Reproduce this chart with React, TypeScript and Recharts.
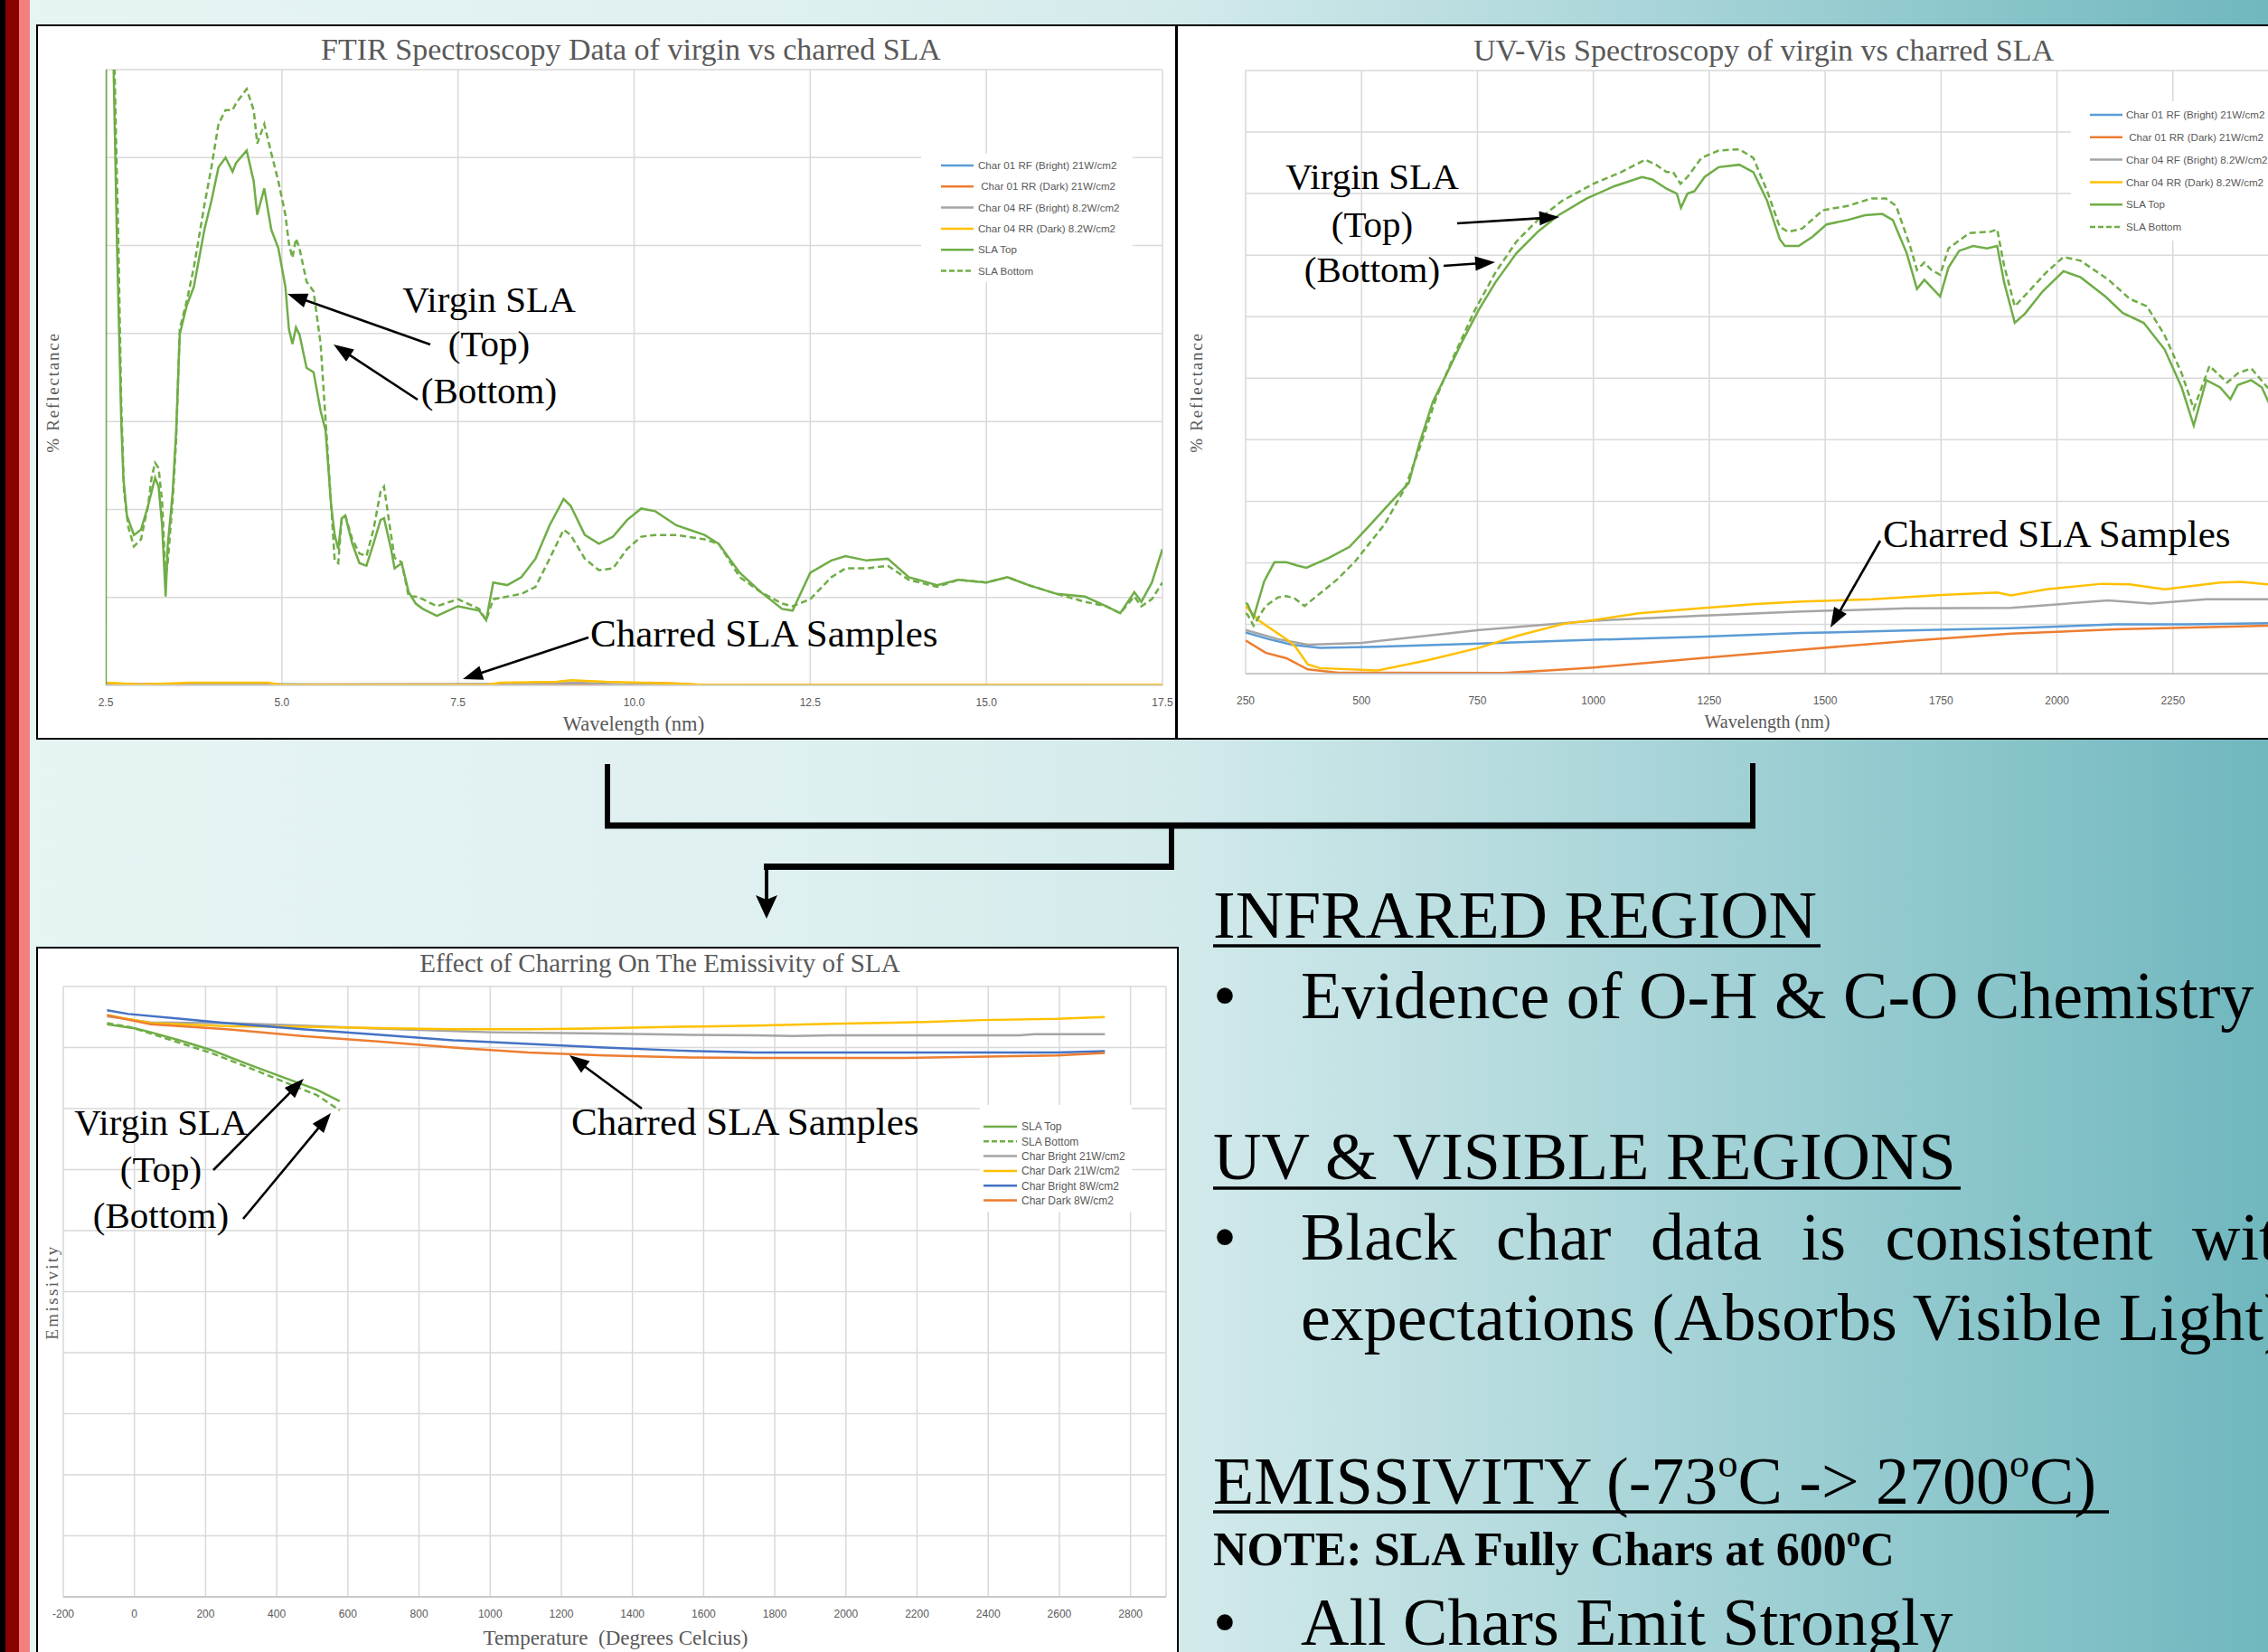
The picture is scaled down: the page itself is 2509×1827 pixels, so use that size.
import React from 'react';
import { LineChart, Line, XAxis, YAxis, CartesianGrid } from 'recharts';

const SERIF = '"Liberation Serif", "Times New Roman", serif';
const SANS = '"Liberation Sans", Arial, sans-serif';

// ---------------- FTIR (left top) ----------------
const FTIR_X_TICKS = [2.5, 5, 7.5, 10, 12.5, 15, 17.5];
const FTIR_Y_TICKS = [0, 10, 20, 30, 40, 50, 60, 70];
const FTIR_SLA_TOP: number[][] = [
  [2.5, 0], [2.505, 95], [2.6, 75], [2.66, 50], [2.72, 30], [2.75, 23.6], [2.8, 19.3], [2.9, 17.1], [3.0, 17.7],
  [3.1, 20.4], [3.15, 22], [3.2, 23.6], [3.25, 22.6], [3.3, 18.2], [3.35, 10.1], [3.38, 16], [3.42, 19.3],
  [3.45, 22], [3.5, 29], [3.55, 39.9], [3.65, 43.2], [3.75, 45.3], [3.9, 51.8], [4.0, 55.1], [4.1, 58.9],
  [4.2, 60], [4.3, 58.4], [4.35, 59.4], [4.5, 60.8], [4.6, 57.3], [4.65, 53.5], [4.75, 56.5], [4.85, 51.8],
  [4.95, 49.7], [5.05, 45.3], [5.1, 40.5], [5.15, 38.8], [5.2, 40.7], [5.25, 39.9], [5.35, 36.1], [5.45, 35.6],
  [5.55, 31.2], [5.62, 29], [5.7, 20.4], [5.75, 17.1], [5.8, 15.5], [5.85, 19], [5.9, 19.3], [6.0, 16.1],
  [6.1, 13.9], [6.2, 13.6], [6.3, 16.1], [6.4, 18.8], [6.45, 19], [6.55, 15.5], [6.6, 13.3], [6.7, 13.9],
  [6.8, 10.6], [6.9, 9.3], [7.0, 8.7], [7.2, 7.9], [7.5, 9], [7.8, 8.5], [7.9, 7.4], [8.0, 11.7], [8.2, 11.4],
  [8.4, 12.3], [8.6, 14.4], [8.8, 18.2], [9.0, 21.2], [9.1, 20.4], [9.3, 17.1], [9.5, 16.1], [9.7, 16.9],
  [9.9, 18.8], [10.1, 20.1], [10.3, 19.8], [10.6, 18.2], [11.0, 17.1], [11.2, 16.1], [11.5, 12.8], [11.8, 10.6],
  [12.1, 8.7], [12.25, 8.5], [12.5, 12.8], [12.8, 14.2], [13.0, 14.7], [13.3, 14.2], [13.6, 14.4], [13.9, 12.3],
  [14.3, 11.4], [14.6, 12], [15.0, 11.7], [15.3, 12.3], [15.6, 11.4], [16.0, 10.4], [16.4, 10.1], [16.7, 9],
  [16.9, 8.2], [17.1, 10.6], [17.2, 9.5], [17.35, 11.7], [17.5, 15.5],
];
const FTIR_SLA_BOTTOM: number[][] = [
  [2.55, 95], [2.62, 72], [2.68, 50], [2.72, 32], [2.76, 22], [2.82, 18], [2.9, 15.8], [3.0, 16.6], [3.1, 20.4],
  [3.15, 23.6], [3.2, 25.3], [3.25, 24.7], [3.3, 20.9], [3.35, 12.3], [3.38, 14], [3.42, 18], [3.45, 21],
  [3.5, 28], [3.55, 40.5], [3.65, 43.7], [3.75, 47.5], [3.9, 54.6], [4.0, 58.9], [4.1, 63.8], [4.2, 65.4],
  [4.3, 65.4], [4.35, 66.2], [4.5, 67.8], [4.6, 65.4], [4.65, 61.6], [4.75, 63.8], [4.85, 60.5], [4.95, 57.3],
  [5.05, 53.5], [5.1, 50.2], [5.15, 48.6], [5.2, 50.8], [5.25, 49.7], [5.35, 45.9], [5.45, 44.8], [5.55, 38.8],
  [5.62, 30.2], [5.7, 20.4], [5.75, 14.2], [5.8, 13.9], [5.85, 19], [5.9, 19.3], [6.0, 16.6], [6.1, 15],
  [6.2, 14.7], [6.3, 17.7], [6.4, 22], [6.45, 22.6], [6.55, 17.1], [6.6, 14.5], [6.7, 14], [6.8, 10.1],
  [6.9, 10.1], [7.0, 9.8], [7.2, 9], [7.5, 9.8], [7.8, 8.7], [7.9, 7.4], [8.0, 9.8], [8.2, 10.1], [8.4, 10.4],
  [8.6, 11.2], [8.8, 14.4], [9.0, 17.7], [9.1, 17.1], [9.3, 14.4], [9.5, 13.1], [9.7, 13.3], [9.9, 15.5],
  [10.1, 16.9], [10.3, 17.1], [10.6, 17.1], [11.0, 16.6], [11.2, 16.1], [11.5, 12.3], [11.8, 10.6], [12.1, 9.3],
  [12.25, 9], [12.5, 9.8], [12.8, 12.3], [13.0, 13.3], [13.3, 13.3], [13.6, 13.6], [13.9, 12], [14.3, 11.2],
  [14.6, 12], [15.0, 11.7], [15.3, 12.3], [15.6, 11.4], [16.0, 10.4], [16.4, 9.5], [16.7, 9], [16.9, 8.2],
  [17.1, 10.1], [17.2, 9], [17.35, 9.8], [17.5, 11.7],
];
const FTIR_CHAR01_RF: number[][] = [[2.5, 0.15], [3.5, 0.1], [4.2, 0.15], [6.0, 0.05], [9.0, 0.1], [17.5, 0.02]];
const FTIR_CHAR01_RR: number[][] = [[2.5, 0.25], [3.0, 0.1], [3.7, 0.2], [4.8, 0.2], [5.0, 0.05], [10.0, 0.05], [10.2, 0.3], [10.6, 0.2], [11.0, 0.05], [17.5, 0.02]];
const FTIR_CHAR04_RF: number[][] = [[2.5, 0.1], [8.5, 0.15], [9.2, 0.3], [9.8, 0.1], [17.5, 0.02]];
const FTIR_CHAR04_RR: number[][] = [[2.5, 0.3], [3.0, 0.1], [3.7, 0.3], [4.8, 0.3], [5.0, 0.05], [7.9, 0.05], [8.1, 0.3], [8.9, 0.4], [9.1, 0.6], [9.6, 0.4], [10.6, 0.2], [11.0, 0.05], [17.5, 0.05]];

// ---------------- UV-Vis (right top) ----------------
const UV_X_TICKS = [250, 500, 750, 1000, 1250, 1500, 1750, 2000, 2250, 2500];
const UV_Y_TICKS = [8, 18, 28, 38, 48, 58, 68, 78, 88, 98];
const UV_SLA_TOP: number[][] = [
  [250, 11.5], [254, 11.3], [267, 9.1], [290, 15], [312, 18.1], [338, 18.1], [360, 17.6], [381, 17.2],
  [429, 18.8], [474, 20.6], [520, 24.3], [560, 27.6], [602, 31], [624, 37.2], [654, 44.2], [684, 48.8],
  [714, 53.5], [752, 59], [789, 63.6], [834, 68.3], [880, 71.8], [925, 74.5], [985, 77.2], [1045, 79.2],
  [1105, 80.7], [1127, 80.3], [1158, 78.8], [1180, 78], [1189, 75.7], [1203, 78], [1218, 78.4], [1240, 80.7],
  [1270, 82.3], [1315, 82.7], [1345, 81.5], [1375, 76.8], [1402, 70.6], [1413, 69.5], [1443, 69.5], [1473, 71],
  [1503, 73], [1548, 73.7], [1586, 74.5], [1623, 74.7], [1646, 73.7], [1676, 68.3], [1698, 62.5], [1714, 64],
  [1729, 62.8], [1748, 61.3], [1766, 66], [1789, 68.7], [1819, 69.5], [1849, 69.1], [1871, 69.5], [1886, 63.6],
  [1909, 57], [1931, 58.5], [1969, 62.1], [2014, 65.4], [2051, 64.4], [2104, 61.3], [2142, 58.6], [2187, 57],
  [2232, 52.7], [2269, 46.5], [2295, 40.3], [2322, 47.7], [2352, 46.5], [2374, 44.6], [2390, 46.9], [2419, 47.7],
  [2442, 46.5], [2460, 43.5], [2480, 45],
];
const UV_SLA_BOTTOM: number[][] = [
  [250, 9.8], [254, 9.6], [267, 7.8], [293, 11], [320, 12.4], [338, 12.6], [356, 12.2], [377, 11],
  [410, 13], [449, 15.4], [488, 18.4], [550, 24.3], [594, 30.2], [624, 36.4], [662, 45], [699, 51.6], [744, 59], [789, 65.2],
  [834, 70.2], [880, 73.7], [932, 76.8], [1000, 79.6], [1060, 81.5], [1112, 83.5], [1135, 82.7], [1158, 81.5],
  [1172, 81.5], [1188, 79.6], [1203, 80.7], [1233, 83.8], [1270, 85], [1315, 85.2], [1345, 83.8], [1375, 78.4],
  [1402, 72.6], [1420, 71.8], [1450, 72.3], [1495, 75.3], [1548, 76], [1600, 77.2], [1631, 77.2], [1653, 76],
  [1683, 69.5], [1698, 65.6], [1714, 66.8], [1729, 65.6], [1748, 64.8], [1766, 69.1], [1811, 71.6], [1856, 71.8],
  [1871, 72.2], [1886, 66.3], [1909, 59.7], [1939, 62.1], [1977, 65.2], [2014, 67.7], [2051, 67.1], [2111, 64],
  [2157, 60.9], [2194, 59.7], [2232, 55], [2269, 48.8], [2295, 43], [2329, 50], [2367, 47.3], [2390, 48.8],
  [2419, 49.6], [2454, 46.5], [2480, 47],
];
const UV_CHAR01_RF: number[][] = [
  [250, 6.7], [300, 5.6], [350, 4.7], [410, 4.2], [549, 4.4], [754, 4.9], [1001, 5.5], [1229, 6.0], [1450, 6.6],
  [1676, 7], [1901, 7.4], [2126, 8], [2277, 8], [2454, 8.2], [2500, 8.3],
];
const UV_CHAR01_RR: number[][] = [
  [250, 5.4], [293, 3.4], [338, 2.5], [384, 0.7], [450, 0.15], [806, 0.1], [903, 0.5], [1001, 1], [1229, 2.5],
  [1450, 3.9], [1676, 5.3], [1901, 6.5], [2126, 7.2], [2454, 7.8], [2500, 7.9],
];
const UV_CHAR04_RF: number[][] = [
  [250, 7.1], [320, 5.6], [384, 4.7], [501, 5.0], [754, 7.1], [1001, 8.6], [1229, 9.4], [1450, 10.1],
  [1676, 10.6], [1901, 10.7], [2111, 11.9], [2201, 11.4], [2322, 12.1], [2454, 12.1], [2500, 12.2],
];
const UV_CHAR04_RR: number[][] = [
  [250, 11], [279, 8.6], [338, 5.6], [357, 4.4], [384, 1.5], [410, 0.9], [533, 0.5], [644, 2.2], [754, 4.2],
  [839, 6.2], [936, 8.1], [1001, 8.7], [1098, 9.8], [1229, 10.6], [1350, 11.3], [1450, 11.7], [1601, 12.1],
  [1751, 12.8], [1871, 13.2], [1901, 12.7], [1977, 13.7], [2097, 14.6], [2157, 14.5], [2232, 13.7],
  [2352, 14.8], [2397, 14.9], [2454, 14.5], [2500, 14.6],
];

// ---------------- Emissivity (left bottom) ----------------
const EMIS_X_TICKS = [-200, 0, 200, 400, 600, 800, 1000, 1200, 1400, 1600, 1800, 2000, 2200, 2400, 2600, 2800, 2900];
const EMIS_Y_TICKS = [0, 0.1, 0.2, 0.3, 0.4, 0.5, 0.6, 0.7, 0.8, 0.9, 1.0];
const EMIS_SLA_TOP: number[][] = [[-77, 0.938], [4, 0.931], [46, 0.925], [131, 0.911], [216, 0.896], [322, 0.872], [428, 0.849], [513, 0.831], [577, 0.812]];
const EMIS_SLA_BOTTOM: number[][] = [[-77, 0.94], [-17, 0.934], [46, 0.923], [131, 0.907], [216, 0.891], [322, 0.867], [428, 0.842], [513, 0.822], [577, 0.797]];
const EMIS_BRIGHT21: number[][] = [[-77, 0.951], [46, 0.941], [259, 0.94], [471, 0.936], [683, 0.931], [896, 0.927], [1002, 0.925], [1320, 0.923], [1532, 0.921], [1745, 0.92], [1851, 0.919], [1957, 0.92], [2488, 0.92], [2530, 0.922], [2728, 0.922]];
const EMIS_DARK21: number[][] = [[-77, 0.953], [46, 0.94], [259, 0.935], [471, 0.934], [683, 0.932], [896, 0.93], [1108, 0.93], [1278, 0.931], [1532, 0.934], [1745, 0.936], [1957, 0.939], [2169, 0.941], [2382, 0.945], [2594, 0.947], [2728, 0.95]];
const EMIS_BRIGHT8: number[][] = [[-77, 0.961], [-17, 0.955], [131, 0.947], [259, 0.94], [471, 0.93], [683, 0.921], [896, 0.912], [1108, 0.906], [1320, 0.9], [1532, 0.895], [1745, 0.892], [2169, 0.892], [2594, 0.892], [2728, 0.894]];
const EMIS_DARK8: number[][] = [[-77, 0.953], [46, 0.938], [259, 0.93], [471, 0.919], [683, 0.91], [896, 0.9], [1108, 0.892], [1320, 0.887], [1532, 0.884], [1745, 0.883], [2169, 0.883], [2594, 0.887], [2728, 0.891]];

// ---------------- legend labels ----------------
const SPEC_LEGEND = [
  'Char 01 RF (Bright) 21W/cm2',
  '\u00a0Char 01 RR (Dark) 21W/cm2',
  'Char 04 RF (Bright) 8.2W/cm2',
  'Char 04 RR (Dark) 8.2W/cm2',
  'SLA Top',
  'SLA Bottom',
];
const EMIS_LEGEND = ['SLA Top', 'SLA Bottom', 'Char Bright 21W/cm2', 'Char Dark 21W/cm2', 'Char Bright 8W/cm2', 'Char Dark 8W/cm2'];

const BLUE = '#5b9bd5';
const ORANGE = '#ed7d31';
const GRAY = '#a5a5a5';
const YELLOW = '#ffc000';
const GREEN = '#70ad47';
const DBLUE = '#4472c4';
const DASH = '7 4';

const SPEC_COLORS = [BLUE, ORANGE, GRAY, YELLOW, GREEN, GREEN];
const SPEC_DASHED = [false, false, false, false, false, true];
const EMIS_COLORS = [GREEN, GREEN, GRAY, YELLOW, DBLUE, ORANGE];
const EMIS_DASHED = [false, true, false, false, false, false];

const FTIR_SERIES = [FTIR_CHAR01_RF, FTIR_CHAR01_RR, FTIR_CHAR04_RF, FTIR_CHAR04_RR, FTIR_SLA_TOP, FTIR_SLA_BOTTOM];
const UV_SERIES = [UV_CHAR01_RF, UV_CHAR01_RR, UV_CHAR04_RF, UV_CHAR04_RR, UV_SLA_TOP, UV_SLA_BOTTOM];
const EMIS_SERIES = [EMIS_SLA_TOP, EMIS_SLA_BOTTOM, EMIS_BRIGHT21, EMIS_DARK21, EMIS_BRIGHT8, EMIS_DARK8];

const toPts = (a: number[][]) => a.map(([x, y]) => ({ x, y }));

const tickStyle = { fontFamily: SANS, fontSize: 12, fill: '#595959' };

function Chart(props: any) {
  const { left, top, width, height, margin, xDomain, xTicks, yDomain, yTicks, series, colors, dashed, names, tickMargin, axisColor, fmt } = props;
  return (
    <div style={{ position: 'absolute', left, top }}>
      <LineChart width={width} height={height} margin={margin}>
        <CartesianGrid stroke="#d9d9d9" strokeWidth={1.5} />
        <XAxis
          dataKey="x"
          type="number"
          domain={xDomain}
          ticks={xTicks}
          allowDataOverflow
          interval={0}
          tickLine={false}
          tickSize={0}
          tickMargin={tickMargin}
          height={30}
          axisLine={{ stroke: axisColor, strokeWidth: 1.5 }}
          tick={tickStyle}
          tickFormatter={fmt}
        />
        <YAxis type="number" domain={yDomain} ticks={yTicks} allowDataOverflow hide width={0} />
        {series.map((s: number[][], i: number) => (
          <Line
            key={i}
            name={names[i]}
            data={toPts(s)}
            dataKey="y"
            type="linear"
            stroke={colors[i]}
            strokeWidth={2.5}
            strokeDasharray={dashed[i] ? DASH : undefined}
            dot={false}
            activeDot={false}
            isAnimationActive={false}
          />
        ))}
      </LineChart>
    </div>
  );
}

function Arrow({ x1, y1, x2, y2, w = 2.6, hl = 22, hw = 8 }: any) {
  const dx = x2 - x1;
  const dy = y2 - y1;
  const len = Math.hypot(dx, dy);
  const ux = dx / len;
  const uy = dy / len;
  const bx = x2 - ux * hl;
  const by = y2 - uy * hl;
  const px = -uy;
  const py = ux;
  return (
    <g>
      <line x1={x1} y1={y1} x2={bx + ux * 4} y2={by + uy * 4} stroke="#000" strokeWidth={w} />
      <polygon points={`${x2},${y2} ${bx + px * hw},${by + py * hw} ${bx - px * hw},${by - py * hw}`} fill="#000" />
    </g>
  );
}

function LegendBlock({ box, lx1, lx2, tx, y0, dy, fs, labels, colors, dashed }: any) {
  return (
    <g>
      <rect x={box[0]} y={box[1]} width={box[2]} height={box[3]} fill="#fff" />
      {labels.map((t: string, i: number) => (
        <g key={i}>
          <line x1={lx1} x2={lx2} y1={y0 + i * dy} y2={y0 + i * dy} stroke={colors[i]} strokeWidth={2.5} strokeDasharray={dashed[i] ? '6 3' : undefined} />
          <text x={tx} y={y0 + i * dy + fs * 0.36} fontFamily={SANS} fontSize={fs} fill="#595959">{t}</text>
        </g>
      ))}
    </g>
  );
}

function Virgin({ cx, b1, b2, b3 }: any) {
  return (
    <g fontFamily={SERIF} fontSize={41} fill="#000" textAnchor="middle">
      <text x={cx} y={b1}>Virgin SLA</text>
      <text x={cx} y={b2}>(Top)</text>
      <text x={cx} y={b3}>(Bottom)</text>
    </g>
  );
}

export default function App() {
  const bg = 'linear-gradient(to right, #e7f4f4 0%, #dff0f0 35%, #d3eaeb 52%, #b3dadd 68%, #8fc8cd 85%, #70b7be 100%)';
  return (
    <div style={{ position: 'absolute', left: 0, top: 0, width: 2509, height: 1827, overflow: 'hidden', background: bg }}>
      {/* left border stripes */}
      <div style={{ position: 'absolute', left: 0, top: 0, width: 6, height: 1827, background: '#000' }} />
      <div style={{ position: 'absolute', left: 6, top: 0, width: 15, height: 1827, background: '#8b0000' }} />
      <div style={{ position: 'absolute', left: 21, top: 0, width: 12, height: 1827, background: '#f47f7f' }} />

      {/* chart boxes */}
      <div style={{ position: 'absolute', left: 40, top: 27, width: 1262, height: 791, background: '#fff', border: '2px solid #000', boxSizing: 'border-box' }} />
      <div style={{ position: 'absolute', left: 1301, top: 27, width: 1300, height: 791, background: '#fff', border: '2px solid #000', boxSizing: 'border-box' }} />
      <div style={{ position: 'absolute', left: 40, top: 1047, width: 1264, height: 820, background: '#fff', border: '2px solid #000', boxSizing: 'border-box' }} />

      <Chart
        left={40} top={27} width={1261} height={791}
        margin={{ top: 50, right: 15, bottom: 30, left: 77 }}
        xDomain={[2.5, 17.5]} xTicks={FTIR_X_TICKS} yDomain={[0, 70]} yTicks={FTIR_Y_TICKS}
        series={FTIR_SERIES} colors={SPEC_COLORS} dashed={SPEC_DASHED} names={SPEC_LEGEND}
        tickMargin={14} axisColor="#d9d9d9" fmt={(v: number) => v.toFixed(1)}
      />
      <Chart
        left={1301} top={27} width={1300} height={791}
        margin={{ top: 51, right: 69, bottom: 43, left: 77 }}
        xDomain={[250, 2500]} xTicks={UV_X_TICKS} yDomain={[0, 98]} yTicks={UV_Y_TICKS}
        series={UV_SERIES} colors={SPEC_COLORS} dashed={SPEC_DASHED} names={SPEC_LEGEND}
        tickMargin={25} axisColor="#bfbfbf" fmt={(v: number) => (v >= 2500 ? '' : String(v))}
      />
      <Chart
        left={40} top={1048} width={1263} height={800}
        margin={{ top: 43, right: 13, bottom: 52, left: 30 }}
        xDomain={[-200, 2900]} xTicks={EMIS_X_TICKS} yDomain={[0, 1]} yTicks={EMIS_Y_TICKS}
        series={EMIS_SERIES} colors={EMIS_COLORS} dashed={EMIS_DASHED} names={EMIS_LEGEND}
        tickMargin={14} axisColor="#bfbfbf" fmt={(v: number) => (v === 2900 ? '' : String(v))}
      />

      <svg width={2509} height={1827} style={{ position: 'absolute', left: 0, top: 0, pointerEvents: 'none' }}>
        {/* titles */}
        <g fontFamily={SERIF} fill="#595959" textAnchor="middle">
          <text x={698} y={66} fontSize={34}>FTIR Spectroscopy Data of virgin vs charred SLA</text>
          <text x={1951} y={67} fontSize={34}>UV-Vis Spectroscopy of virgin vs charred SLA</text>
          <text x={730} y={1075} fontSize={29}>Effect of Charring On The Emissivity of SLA</text>
          <text x={701} y={808} fontSize={22.5}>Wavelength (nm)</text>
          <text x={1955} y={805} fontSize={20}>Wavelength (nm)</text>
          <text x={681} y={1819} fontSize={23} style={{ whiteSpace: 'pre' }}>Temperature  (Degrees Celcius)</text>
          <text x={65} y={434} fontSize={19} letterSpacing={1.8} transform="rotate(-90 65 434)">% Reflectance</text>
          <text x={1330} y={434} fontSize={19} letterSpacing={1.8} transform="rotate(-90 1330 434)">% Reflectance</text>
          <text x={64} y={1429} fontSize={19} letterSpacing={2.4} transform="rotate(-90 64 1429)">Emissivity</text>
        </g>

        {/* legends */}
        <LegendBlock box={[1019, 170, 234, 142]} lx1={1041} lx2={1077} tx={1082} y0={183} dy={23.3} fs={11.6}
          labels={SPEC_LEGEND} colors={SPEC_COLORS} dashed={SPEC_DASHED} />
        <LegendBlock box={[2291, 112, 230, 154]} lx1={2312} lx2={2348} tx={2352} y0={127} dy={24.8} fs={11.6}
          labels={SPEC_LEGEND} colors={SPEC_COLORS} dashed={SPEC_DASHED} />
        <LegendBlock box={[1084, 1222, 168, 118]} lx1={1088} lx2={1125} tx={1130} y0={1246} dy={16.3} fs={12}
          labels={EMIS_LEGEND} colors={EMIS_COLORS} dashed={EMIS_DASHED} />

        {/* annotations chart 1 */}
        <Virgin cx={541} b1={345} b2={394} b3={446} />
        <Arrow x1={476} y1={381} x2={318} y2={325} />
        <Arrow x1={462} y1={442} x2={369} y2={381} />
        <text x={653} y={715} fontFamily={SERIF} fontSize={43} fill="#000">Charred SLA Samples</text>
        <Arrow x1={651} y1={705} x2={512} y2={751} />

        {/* annotations chart 2 */}
        <Virgin cx={1518} b1={209} b2={262} b3={312} />
        <Arrow x1={1612} y1={247} x2={1725} y2={240} />
        <Arrow x1={1597} y1={294} x2={1654} y2={290} />
        <text x={2083} y={605} fontFamily={SERIF} fontSize={43} fill="#000">Charred SLA Samples</text>
        <Arrow x1={2080} y1={598} x2={2025} y2={694} />

        {/* annotations chart 3 */}
        <Virgin cx={178} b1={1255} b2={1307} b3={1358} />
        <Arrow x1={236} y1={1294} x2={336} y2={1193} />
        <Arrow x1={269} y1={1348} x2={366} y2={1231} />
        <text x={632} y={1255} fontFamily={SERIF} fontSize={43} fill="#000">Charred SLA Samples</text>
        <Arrow x1={710} y1={1226} x2={630} y2={1167} />

        {/* connectors */}
        <g stroke="#000" fill="none">
          <line x1={672} y1={845} x2={672} y2={916} strokeWidth={6} />
          <line x1={1939} y1={844} x2={1939} y2={916} strokeWidth={6} />
          <line x1={669} y1={913} x2={1942} y2={913} strokeWidth={7} />
          <line x1={1296} y1={913} x2={1296} y2={961} strokeWidth={6} />
          <line x1={845} y1={958.5} x2={1299} y2={958.5} strokeWidth={7} />
          <line x1={848} y1={958} x2={848} y2={995} strokeWidth={4} />
        </g>
        <polygon points="848,1016 836,990 848,995 860,990" fill="#000" />

        {/* right-hand text */}
        <g fontFamily={SERIF} fill="#000">
          <text x={1342} y={1037} fontSize={74}>INFRARED REGION</text>
          <line x1={1342} x2={2014} y1={1046} y2={1046} stroke="#000" strokeWidth={3.5} />
          <text x={1342} y={1126} fontSize={74}>•</text>
          <text x={1439} y={1126} fontSize={74}>Evidence of O-H &amp; C-O Chemistry</text>

          <text x={1342} y={1304} fontSize={74}>UV &amp; VISIBLE REGIONS</text>
          <line x1={1342} x2={2169} y1={1314} y2={1314} stroke="#000" strokeWidth={3.5} />
          <text x={1342} y={1393} fontSize={74}>•</text>
          <text x={1439} y={1393} fontSize={74} style={{ wordSpacing: 25 }}>Black char data is consistent with</text>
          <text x={1439} y={1482} fontSize={74}>expectations (Absorbs Visible Light)</text>

          <text x={1342} y={1663} fontSize={74}>
            EMISSIVITY (-73<tspan fontSize={44} dy={-30}>o</tspan><tspan dy={30}>C -&gt; 2700</tspan><tspan fontSize={44} dy={-30}>o</tspan><tspan dy={30}>C)</tspan>
          </text>
          <line x1={1342} x2={2333} y1={1672} y2={1672} stroke="#000" strokeWidth={3.5} />
          <text x={1342} y={1731} fontSize={52} fontWeight="bold">
            NOTE: SLA Fully Chars at 600<tspan fontSize={31} dy={-21}>o</tspan><tspan dy={21}>C</tspan>
          </text>
          <text x={1342} y={1819} fontSize={74}>•</text>
          <text x={1439} y={1819} fontSize={74}>All Chars Emit Strongly</text>
        </g>
      </svg>
    </div>
  );
}
